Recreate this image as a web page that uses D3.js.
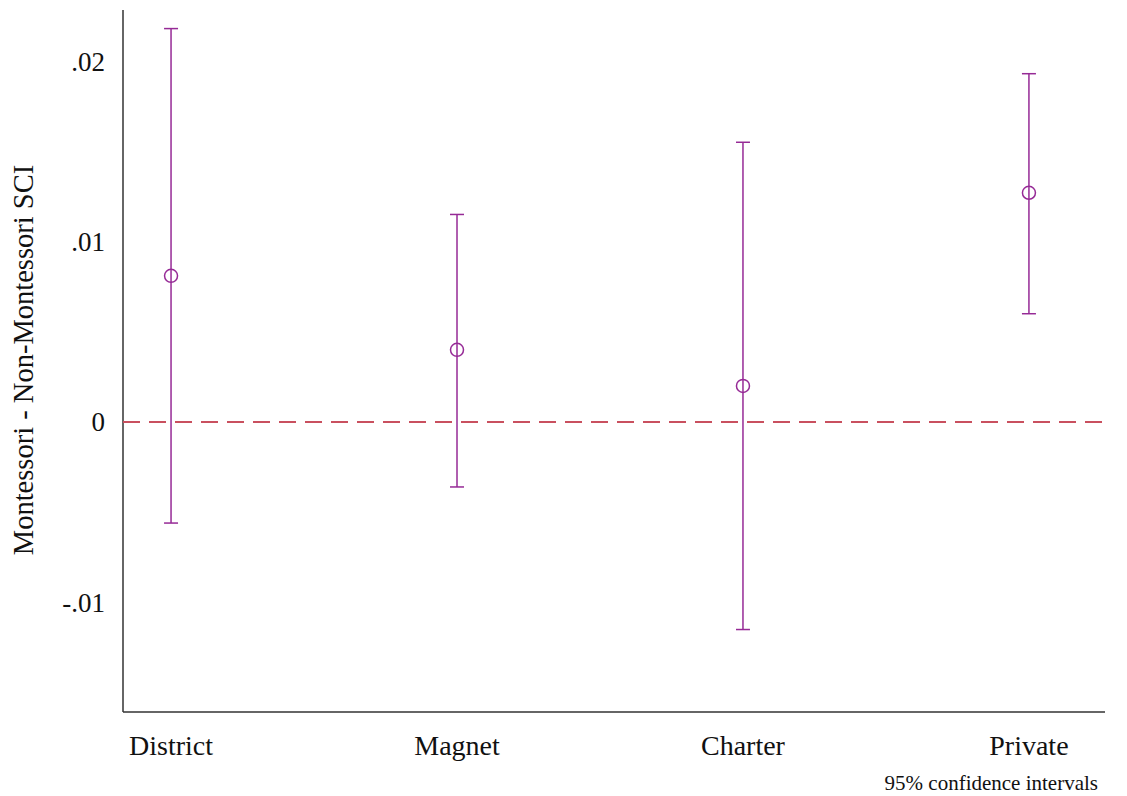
<!DOCTYPE html>
<html>
<head>
<meta charset="utf-8">
<script src="https://cdn.jsdelivr.net/npm/d3@7"></script>
<style>
  body { margin: 0; background: #fff; }
  text { font-family: "Liberation Serif", "DejaVu Serif", serif; fill: #111; }
</style>
</head>
<body>
<div id="chart"></div>
<script>
// DATA--------------------
var categories = ["District", "Magnet", "Charter", "Private"];
var estimates = [0.0081, 0.0040, 0.0020, 0.0127];
var lowerCI = [-0.0056, -0.0036, -0.0115, 0.0060];
var upperCI = [0.0218, 0.0115, 0.0155, 0.0193];
var yTicks = [-0.01, 0, 0.01, 0.02];
var yTickLabels = ["-.01", "0", ".01", ".02"];

// SET BOUNDARIES--------------------
var svgWidth = 1127;
var svgHeight = 796;
var margin = { top: 10, right: 22, bottom: 84, left: 123 };
var width = svgWidth - margin.left - margin.right;
var height = svgHeight - margin.top - margin.bottom;

var svg = d3.select("#chart")
    .append("svg")
    .attr("width", svgWidth)
    .attr("height", svgHeight);

var plot = svg.append("g")
    .attr("transform", `translate(${margin.left}, ${margin.top})`);

var color = "#962a96";

// scales
var xScale = d3.scaleLinear()
    .domain([0.832, 4.266])
    .range([0, width]);

var yScale = d3.scaleLinear()
    .domain([-0.01607, 0.02283])
    .range([height, 0]);

// axes lines
plot.append("line")
    .attr("x1", 0).attr("x2", 0)
    .attr("y1", 0).attr("y2", height)
    .attr("stroke", "#333").attr("stroke-width", 1.5);

plot.append("line")
    .attr("x1", 0).attr("x2", width)
    .attr("y1", height).attr("y2", height)
    .attr("stroke", "#333").attr("stroke-width", 1.5);

// y tick labels (no tick marks)
plot.selectAll("text.ytick")
    .data(yTicks)
    .enter()
    .append("text")
    .attr("class", "ytick")
    .attr("x", -18)
    .attr("y", d => yScale(d))
    .attr("dy", "0.35em")
    .attr("text-anchor", "end")
    .attr("font-size", 27)
    .text((d, i) => yTickLabels[i]);

// x category labels
plot.selectAll("text.xtick")
    .data(categories)
    .enter()
    .append("text")
    .attr("class", "xtick")
    .attr("x", (d, i) => xScale(i + 1))
    .attr("y", height + 43)
    .attr("text-anchor", "middle")
    .attr("font-size", 28)
    .text(d => d);

// y axis title
svg.append("text")
    .attr("transform", `translate(33, 360) rotate(-90)`)
    .attr("text-anchor", "middle")
    .attr("font-size", 28.5)
    .text("Montessori - Non-Montessori SCI");

// note
svg.append("text")
    .attr("x", 1098)
    .attr("y", 790)
    .attr("text-anchor", "end")
    .attr("font-size", 21)
    .text("95% confidence intervals");

// zero reference line
plot.append("line")
    .attr("x1", 0).attr("x2", width)
    .attr("y1", yScale(0)).attr("y2", yScale(0))
    .attr("stroke", "#c9505f")
    .attr("stroke-width", 2)
    .attr("stroke-dasharray", "17,9");

// error bars
var bars = plot.selectAll("g.ci")
    .data(categories)
    .enter()
    .append("g")
    .attr("class", "ci");

bars.append("line")
    .attr("x1", (d, i) => xScale(i + 1))
    .attr("x2", (d, i) => xScale(i + 1))
    .attr("y1", (d, i) => yScale(lowerCI[i]))
    .attr("y2", (d, i) => yScale(upperCI[i]))
    .attr("stroke", color).attr("stroke-width", 1.5);

bars.append("line")
    .attr("x1", (d, i) => xScale(i + 1) - 7)
    .attr("x2", (d, i) => xScale(i + 1) + 7)
    .attr("y1", (d, i) => yScale(upperCI[i]))
    .attr("y2", (d, i) => yScale(upperCI[i]))
    .attr("stroke", color).attr("stroke-width", 1.5);

bars.append("line")
    .attr("x1", (d, i) => xScale(i + 1) - 7)
    .attr("x2", (d, i) => xScale(i + 1) + 7)
    .attr("y1", (d, i) => yScale(lowerCI[i]))
    .attr("y2", (d, i) => yScale(lowerCI[i]))
    .attr("stroke", color).attr("stroke-width", 1.5);

// point estimates
bars.append("circle")
    .attr("cx", (d, i) => xScale(i + 1))
    .attr("cy", (d, i) => yScale(estimates[i]))
    .attr("r", 6.5)
    .attr("fill", "none")
    .attr("stroke", color)
    .attr("stroke-width", 1.5);
</script>
</body>
</html>
